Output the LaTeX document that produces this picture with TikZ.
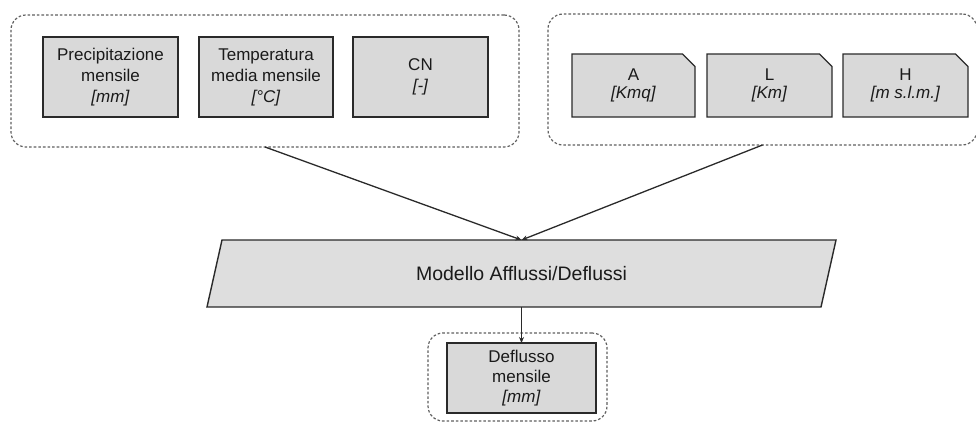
\documentclass[tikz,border=0pt]{standalone}
\usepackage{fontspec}
\setmainfont{Liberation Sans}
\usetikzlibrary{arrows.meta,shapes.misc,calc,backgrounds}
\definecolor{boxfill}{HTML}{D9D9D9}
\definecolor{parafill}{HTML}{DEDEDE}
\definecolor{edge}{HTML}{2A2A2A}
\definecolor{dashc}{HTML}{606060}
\definecolor{txt}{HTML}{1A1A1A}
\begin{document}
\begin{tikzpicture}[x=1pt,y=-1pt,
  databox/.style={draw=edge, fill=boxfill, line width=1.4pt, inner sep=0pt, outer sep=0pt,
    align=center, text=txt, font=\fontsize{17}{21}\selectfont},
  cutbox/.style={chamfered rectangle, chamfered rectangle corners=north east,
    chamfered rectangle xsep=9pt, draw=edge, fill=boxfill, line width=1.4pt,
    inner sep=0pt, outer sep=0pt, align=center, text=txt, font=\fontsize{17}{18}\selectfont},
  groupbox/.style={draw=dashc, dash pattern=on 2.6pt off 2pt, line width=1.2pt,
    rounded corners=15pt, inner sep=0pt, outer sep=0pt},
  conn/.style={draw=edge, line width=1.3pt, -{Stealth[length=6pt,width=5pt]}}
]
\useasboundingbox (0,0) rectangle (976,423);
% groups
\node[groupbox, minimum width=508pt, minimum height=132pt] (g1) at (265,81) {};
\node[groupbox, minimum width=429pt, minimum height=131pt] (g2) at (762.5,79.5) {};
\node[groupbox, minimum width=179pt, minimum height=88pt] (g3) at (517.5,377) {};
% left boxes
\node[databox, minimum width=135pt, minimum height=80pt] (p1) at (110.5,77)
  {Precipitazione\\mensile\\\textit{[mm]}};
\node[databox, minimum width=134pt, minimum height=80pt] (p2) at (266,77)
  {Temperatura\\media mensile\\\textit{[°C]}};
\node[databox, minimum width=135pt, minimum height=80pt] (p3) at (420.5,77)
  {CN\\\textit{[-]}};
% right boxes
\node[cutbox, minimum width=123pt, minimum height=63pt] (a) at (633.5,85.5)
  {A\\\textit{[Kmq]}};
\node[cutbox, minimum width=125pt, minimum height=63pt] (l) at (769.5,85.5)
  {L\\\textit{[Km]}};
\node[cutbox, minimum width=125pt, minimum height=63pt] (h) at (905.5,85.5)
  {H\\\textit{[m s.l.m.]}};
% model
\node[inner sep=0pt, outer sep=0pt, minimum width=629pt, minimum height=67pt, text=txt,
  font=\fontsize{19.5}{23}\selectfont] (m) at (521.5,273.5) {Modello Afflussi/Deflussi};
\begin{scope}[on background layer]
\draw[draw=edge, fill=parafill, line width=1.4pt]
  (m.south west) -- ($(m.north west)+(15,0)$) -- (m.north east)
  -- ($(m.south east)+(-15,0)$) -- cycle;
\end{scope}
% output
\node[databox, minimum width=149pt, minimum height=70pt, font=\fontsize{17}{20}\selectfont] (out) at (521.5,378)
  {Deflusso\\mensile\\\textit{[mm]}};
% connectors
\draw[conn] (g1.south) -- (m.north);
\draw[conn] (g2.south) -- (m.north);
\draw[conn] (m.south) -- (out.north);
\end{tikzpicture}
\end{document}
